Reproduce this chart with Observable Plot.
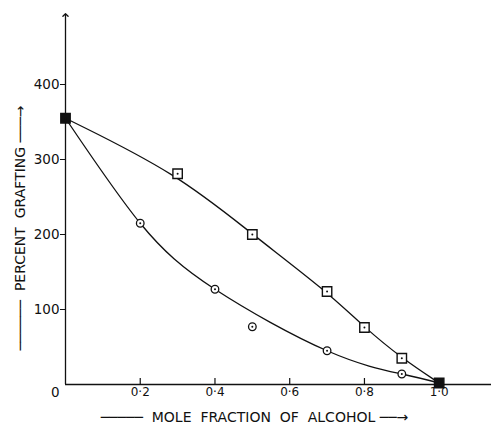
<!DOCTYPE html>
<html>
<head>
<meta charset="utf-8">
<script src="https://cdn.jsdelivr.net/npm/d3@7"></script>
<script src="https://cdn.jsdelivr.net/npm/@observablehq/plot@0.6"></script>
<style>
  html, body { margin: 0; padding: 0; background: #fff; }
  #chart svg { display: block; }
</style>
</head>
<body>
<div id="chart"></div>
<script>
// Square-marker series
const squareX = [0, 0.3, 0.5, 0.7, 0.8, 0.9, 1.0];
const squareY = [355, 281, 200, 124, 76, 35, 2];
// Circle-marker series
const circleX = [0, 0.2, 0.4, 0.5, 0.7, 0.9, 1.0];
const circleY = [355, 215, 127, 77, 45, 14, 2];
// Circle point lying off the smooth curve
const circleOffCurveX = [0.5];
// Ticks
const xTicks = [0.2, 0.4, 0.6, 0.8, 1.0];
const xTickLabels = ["0·2", "0·4", "0·6", "0·8", "1·0"];
const yTicks = [100, 200, 300, 400];
const yZeroLabel = ["0"];
const xTitle = "─────  MOLE  FRACTION  OF  ALCOHOL ──→";
const yTitle = "──────  PERCENT  GRAFTING ───→";

const squares = squareX.map((x, i) => ({x, y: squareY[i]}));
const circles = circleX.map((x, i) => ({x, y: circleY[i]}));
const circleCurve = circles.filter(d => !circleOffCurveX.includes(d.x));

const font = "DejaVu Sans";
const ink = "#111";

const chart = Plot.plot({
  width: 494,
  height: 425,
  marginLeft: 65,
  marginRight: 3,
  marginTop: 15,
  marginBottom: 41,
  style: {fontFamily: font, background: "#fff", color: ink},
  x: {domain: [0, 1.14]},
  y: {domain: [0, 492]},
  marks: [
    // axes lines
    Plot.ruleY([0], {stroke: ink, strokeWidth: 1.3}),
    Plot.ruleX([0], {y1: 0, y2: 492, stroke: ink, strokeWidth: 1.3, markerEnd: "arrow"}),
    // x ticks pointing upward
    Plot.ruleX(xTicks, {y1: 0, y2: 8, stroke: ink, strokeWidth: 1.2}),
    Plot.axisX({ticks: xTicks, tickFormat: (d, i) => xTickLabels[i], tickSize: 0, tickPadding: 3, fontSize: 12, label: null, fill: ink}),
    Plot.axisY({ticks: yTicks, tickSize: 5, tickPadding: 1, fontSize: 13.5, label: null, stroke: ink, fill: ink}),
    Plot.text(yZeroLabel, {x: 0, y: 0, text: d => d, textAnchor: "end", dx: -6, dy: 8, fontSize: 13.5, fill: ink}),
    // curves
    Plot.line(squares, {x: "x", y: "y", curve: "basis", stroke: ink, strokeWidth: 1.3}),
    Plot.line(circleCurve, {x: "x", y: "y", curve: "natural", stroke: ink, strokeWidth: 1.3}),
    // markers
    Plot.dot(circles, {x: "x", y: "y", r: 3.8, stroke: ink, strokeWidth: 1.3, fill: "white"}),
    Plot.dot(squares, {x: "x", y: "y", symbol: "square", r: 5.3, stroke: ink, strokeWidth: 1.4,
      fill: d => (d.x === 0 || d.x === 1) ? ink : "white"}),
    Plot.dot(circles.concat(squares), {x: "x", y: "y", r: 1, fill: ink}),
    // axis titles
    Plot.text([xTitle], {frameAnchor: "bottom", textAnchor: "middle", lineAnchor: "middle", text: d => d, dx: -24, dy: 33, fontSize: 14, letterSpacing: 0.5, fill: ink}),
    Plot.text([yTitle], {frameAnchor: "left", textAnchor: "middle", lineAnchor: "middle", text: d => d, rotate: -90, dx: -45, dy: 28, fontSize: 14, letterSpacing: 0.8, fill: ink})
  ]
});
document.getElementById("chart").appendChild(chart);
</script>
</body>
</html>
